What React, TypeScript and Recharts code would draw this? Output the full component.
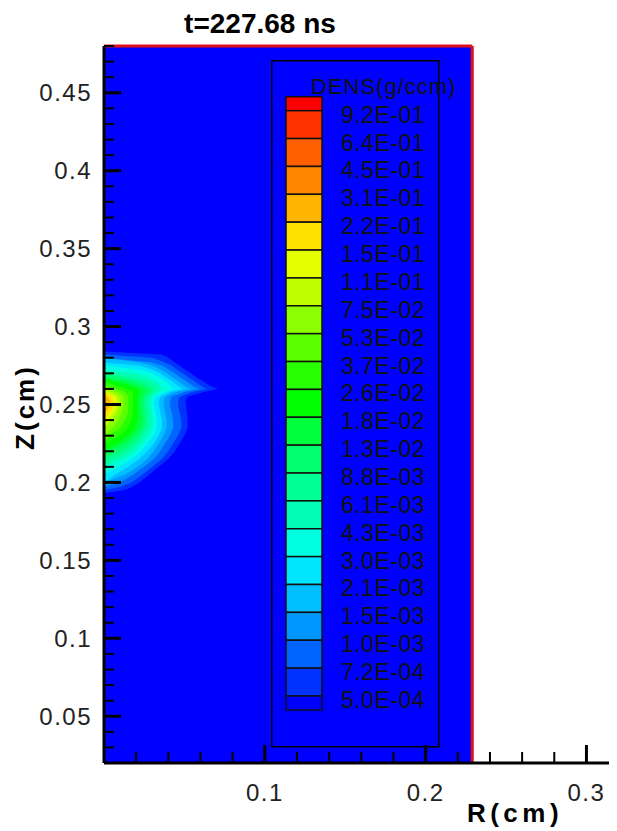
import React from 'react';
import { ComposedChart, Area, XAxis, YAxis, ReferenceLine, Legend } from 'recharts';

// Z (cm) rows of the contour table, top to bottom
const zRows = [0.284, 0.282, 0.28, 0.277, 0.275, 0.272, 0.27, 0.267, 0.265, 0.262, 0.26, 0.258, 0.255, 0.252, 0.25, 0.245, 0.24, 0.235, 0.23, 0.225, 0.22, 0.215, 0.21, 0.205, 0.2, 0.197, 0.195, 0.193];

// right edge R (cm) of each density contour at every row (region is R from 0 to value)
const r5_0e4 = [0, 0.036, 0.04, 0.044, 0.047, 0.051, 0.054, 0.058, 0.0615, 0.066, 0.0708, 0.062, 0.052, 0.0505, 0.051, 0.0515, 0.052, 0.052, 0.05, 0.047, 0.044, 0.04, 0.034, 0.028, 0.022, 0.0175, 0.012, 0];
const r7_2e4 = [0, 0, 0.03, 0.038, 0.042, 0.046, 0.049, 0.053, 0.056, 0.06, 0.064, 0.055, 0.047, 0.046, 0.046, 0.047, 0.048, 0.048, 0.046, 0.043, 0.04, 0.036, 0.03, 0.024, 0.017, 0.01, 0, 0];
const r1_0e3 = [0, 0, 0, 0.03, 0.036, 0.041, 0.044, 0.048, 0.051, 0.055, 0.059, 0.05, 0.042, 0.041, 0.041, 0.042, 0.043, 0.043, 0.041, 0.038, 0.035, 0.031, 0.025, 0.018, 0.01, 0, 0, 0];
const r1_5e3 = [0, 0, 0, 0.022, 0.03, 0.036, 0.039, 0.043, 0.046, 0.05, 0.054, 0.045, 0.038, 0.037, 0.037, 0.038, 0.039, 0.039, 0.037, 0.034, 0.031, 0.027, 0.021, 0.013, 0, 0, 0, 0];
const r2_1e3 = [0, 0, 0, 0, 0.022, 0.031, 0.035, 0.039, 0.042, 0.046, 0.049, 0.041, 0.035, 0.034, 0.034, 0.035, 0.036, 0.036, 0.034, 0.031, 0.027, 0.022, 0.015, 0.007, 0, 0, 0, 0];
const r3_0e3 = [0, 0, 0, 0, 0, 0.024, 0.03, 0.035, 0.038, 0.041, 0.043, 0.038, 0.032, 0.031, 0.031, 0.032, 0.033, 0.033, 0.031, 0.027, 0.023, 0.017, 0.009, 0, 0, 0, 0, 0];
const r4_3e3 = [0, 0, 0, 0, 0, 0, 0.02, 0.028, 0.032, 0.035, 0.037, 0.034, 0.03, 0.029, 0.029, 0.03, 0.03, 0.03, 0.027, 0.024, 0.019, 0.012, 0, 0, 0, 0, 0, 0];
const r6_1e3 = [0, 0, 0, 0, 0, 0, 0, 0.02, 0.027, 0.031, 0.033, 0.031, 0.028, 0.027, 0.027, 0.028, 0.028, 0.027, 0.024, 0.021, 0.015, 0.006, 0, 0, 0, 0, 0, 0];
const r8_8e3 = [0, 0, 0, 0, 0, 0, 0, 0.012, 0.021, 0.027, 0.03, 0.029, 0.026, 0.025, 0.025, 0.026, 0.026, 0.025, 0.022, 0.018, 0.011, 0, 0, 0, 0, 0, 0, 0];
const r1_3e2 = [0, 0, 0, 0, 0, 0, 0, 0, 0.013, 0.022, 0.026, 0.026, 0.024, 0.023, 0.023, 0.024, 0.024, 0.023, 0.019, 0.013, 0.004, 0, 0, 0, 0, 0, 0, 0];
const r1_8e2 = [0, 0, 0, 0, 0, 0, 0, 0, 0.006, 0.016, 0.021, 0.022, 0.021, 0.021, 0.021, 0.021, 0.021, 0.019, 0.015, 0.008, 0, 0, 0, 0, 0, 0, 0, 0];
const r2_6e2 = [0, 0, 0, 0, 0, 0, 0, 0, 0, 0.008, 0.014, 0.018, 0.018, 0.018, 0.018, 0.018, 0.017, 0.015, 0.01, 0, 0, 0, 0, 0, 0, 0, 0, 0];
const r3_7e2 = [0, 0, 0, 0, 0, 0, 0, 0, 0, 0, 0.008, 0.013, 0.015, 0.015, 0.015, 0.015, 0.013, 0.01, 0.003, 0, 0, 0, 0, 0, 0, 0, 0, 0];
const r5_3e2 = [0, 0, 0, 0, 0, 0, 0, 0, 0, 0, 0.002, 0.009, 0.012, 0.012, 0.012, 0.011, 0.009, 0.005, 0, 0, 0, 0, 0, 0, 0, 0, 0, 0];
const r7_5e2 = [0, 0, 0, 0, 0, 0, 0, 0, 0, 0, 0, 0.005, 0.009, 0.01, 0.01, 0.008, 0.005, 0, 0, 0, 0, 0, 0, 0, 0, 0, 0, 0];
const r1_1e1 = [0, 0, 0, 0, 0, 0, 0, 0, 0, 0, 0, 0.001, 0.007, 0.008, 0.008, 0.006, 0.002, 0, 0, 0, 0, 0, 0, 0, 0, 0, 0, 0];
const r1_5e1 = [0, 0, 0, 0, 0, 0, 0, 0, 0, 0, 0, 0, 0.005, 0.006, 0.006, 0.004, 0, 0, 0, 0, 0, 0, 0, 0, 0, 0, 0, 0];
const r2_2e1 = [0, 0, 0, 0, 0, 0, 0, 0, 0, 0, 0, 0, 0.002, 0.004, 0.004, 0.001, 0, 0, 0, 0, 0, 0, 0, 0, 0, 0, 0, 0];

// outer boundary of the computational domain (R, cm)
const boundaryR = 0.229;

const densLabels = ['9.2E-01', '6.4E-01', '4.5E-01', '3.1E-01', '2.2E-01', '1.5E-01', '1.1E-01', '7.5E-02', '5.3E-02', '3.7E-02', '2.6E-02', '1.8E-02', '1.3E-02', '8.8E-03', '6.1E-03', '4.3E-03', '3.0E-03', '2.1E-03', '1.5E-03', '1.0E-03', '7.2E-04', '5.0E-04'];
const bandColors = ['#FF0000', '#FF3200', '#FF5F00', '#FF8700', '#FFB400', '#FFE100', '#E6FF00', '#BEFF00', '#8CFF00', '#5AFF00', '#28FF00', '#00FF00', '#00FF3C', '#00FF6E', '#00FF96', '#00FFB4', '#00FFE1', '#00E6FF', '#00BEFF', '#0096FF', '#0064FF', '#0032FF', '#0000FF'];

const contours = [
  { key: 'c5_0e4', label: '5.0E-04', r: r5_0e4 },
  { key: 'c7_2e4', label: '7.2E-04', r: r7_2e4 },
  { key: 'c1_0e3', label: '1.0E-03', r: r1_0e3 },
  { key: 'c1_5e3', label: '1.5E-03', r: r1_5e3 },
  { key: 'c2_1e3', label: '2.1E-03', r: r2_1e3 },
  { key: 'c3_0e3', label: '3.0E-03', r: r3_0e3 },
  { key: 'c4_3e3', label: '4.3E-03', r: r4_3e3 },
  { key: 'c6_1e3', label: '6.1E-03', r: r6_1e3 },
  { key: 'c8_8e3', label: '8.8E-03', r: r8_8e3 },
  { key: 'c1_3e2', label: '1.3E-02', r: r1_3e2 },
  { key: 'c1_8e2', label: '1.8E-02', r: r1_8e2 },
  { key: 'c2_6e2', label: '2.6E-02', r: r2_6e2 },
  { key: 'c3_7e2', label: '3.7E-02', r: r3_7e2 },
  { key: 'c5_3e2', label: '5.3E-02', r: r5_3e2 },
  { key: 'c7_5e2', label: '7.5E-02', r: r7_5e2 },
  { key: 'c1_1e1', label: '1.1E-01', r: r1_1e1 },
  { key: 'c1_5e1', label: '1.5E-01', r: r1_5e1 },
  { key: 'c2_2e1', label: '2.2E-01', r: r2_2e1 },
];

const xTicks = [0.02, 0.04, 0.06, 0.08, 0.1, 0.12, 0.14, 0.16, 0.18, 0.2, 0.22, 0.24, 0.26, 0.28, 0.3];
const xMajorTicks = [0.1, 0.2, 0.3];
const yTicks = [0.02, 0.03, 0.04, 0.05, 0.06, 0.07, 0.08, 0.09, 0.1, 0.11, 0.12, 0.13, 0.14, 0.15, 0.16, 0.17, 0.18, 0.19, 0.2, 0.21, 0.22, 0.23, 0.24, 0.25, 0.26, 0.27, 0.28, 0.29, 0.3, 0.31, 0.32, 0.33, 0.34, 0.35, 0.36, 0.37, 0.38, 0.39, 0.4, 0.41, 0.42, 0.43, 0.44, 0.45, 0.46, 0.47, 0.48];
const yMajorTicks = [0.05, 0.1, 0.15, 0.2, 0.25, 0.3, 0.35, 0.4, 0.45];

const font = '"Liberation Sans", Arial, sans-serif';

// add the domain top/bottom rows so the background fills the full height
const tableRows = [0.48, ...zRows, 0.02].map((z, i) => {
  const row: Record<string, number> = { z, bg: boundaryR };
  contours.forEach((c) => {
    row[c.key] = i === 0 || i > zRows.length ? 0 : c.r[i - 1];
  });
  return row;
});

const XTick = (props: any) => {
  const { x, y, payload } = props;
  const major = xMajorTicks.includes(payload.value);
  return (
    <g>
      <line x1={x} x2={x} y1={y} y2={y - (major ? 18 : 11)} stroke="#000" strokeWidth={major ? 3 : 2} />
      {major && (
        <text x={x} y={y + 29} textAnchor="middle" dominantBaseline="central" fontFamily={font} fontSize={24} letterSpacing={1.5} fill="#222">
          {payload.value}
        </text>
      )}
    </g>
  );
};

const YTick = (props: any) => {
  const { x, y, payload } = props;
  const major = yMajorTicks.includes(payload.value);
  return (
    <g>
      <line x1={x} x2={x + (major ? 17 : 10)} y1={y} y2={y} stroke="#000" strokeWidth={major ? 3 : 2} />
      {major && (
        <text x={x - 12} y={y} textAnchor="end" dominantBaseline="central" fontFamily={font} fontSize={24} letterSpacing={1.5} fill="#222">
          {payload.value}
        </text>
      )}
    </g>
  );
};

const bandTop = 50.7;
const bandStep = 27.87;

const DensLegend = () => (
  <svg width={172} height={690} style={{ display: 'block', overflow: 'visible' }}>
    <rect x={0.75} y={0.75} width={167} height={686} fill="none" stroke="#000" strokeWidth={1.5} />
    <text x={40} y={34} fontFamily={font} fontSize={22} letterSpacing={1} fill="#111">DENS(g/ccm)</text>
    {bandColors.map((c, i) => {
      const top = i === 0 ? bandTop - 14 : bandTop + (i - 1) * bandStep;
      const bottom = i === 0 ? bandTop : i === bandColors.length - 1 ? top + 14 : bandTop + i * bandStep;
      return <rect key={i} x={15} y={top} width={36} height={bottom - top} fill={c} stroke="#111" strokeWidth={1.5} />;
    })}
    {densLabels.map((l, i) => (
      <text key={l} x={154} y={bandTop + i * bandStep + 4} textAnchor="end" dominantBaseline="central" fontFamily={font} fontSize={23} letterSpacing={0.5} fill="#111">
        {l}
      </text>
    ))}
  </svg>
);

export default function App() {
  return (
    <div style={{ position: 'relative', width: 609, height: 823 }}>
      <ComposedChart layout="vertical" width={609} height={823} data={tableRows} margin={{ top: 38, right: 0, bottom: 0, left: 0 }}>
        <XAxis
          type="number"
          domain={[0, 0.319]}
          allowDataOverflow
          ticks={xTicks}
          interval={0}
          tick={<XTick />}
          tickLine={false}
          tickSize={0}
          tickMargin={0}
          height={68}
          axisLine={{ stroke: '#000', strokeWidth: 3 }}
        />
        <YAxis
          type="number"
          dataKey="z"
          domain={[0.02, 0.48]}
          allowDataOverflow
          reversed
          ticks={yTicks}
          interval={0}
          tick={<YTick />}
          tickLine={false}
          tickSize={0}
          tickMargin={0}
          width={96}
          axisLine={{ stroke: '#000', strokeWidth: 3 }}
        />
        <Area dataKey="bg" type="linear" fill="#0000FF" fillOpacity={1} stroke="none" dot={false} activeDot={false} isAnimationActive={false} />
        {contours.map((c) => (
          <Area
            key={c.key}
            dataKey={c.key}
            type="linear"
            fill={bandColors[densLabels.indexOf(c.label)]}
            fillOpacity={1}
            stroke="none"
            dot={false}
            activeDot={false}
            isAnimationActive={false}
          />
        ))}
        <ReferenceLine segment={[{ x: 0, y: 0.48 }, { x: boundaryR, y: 0.48 }]} stroke="#E0101A" strokeWidth={3} ifOverflow="visible" />
        <ReferenceLine segment={[{ x: boundaryR, y: 0.48 }, { x: boundaryR, y: 0.02 }]} stroke="#E0101A" strokeWidth={3} ifOverflow="visible" />
        <Legend
          layout="vertical"
          align="center"
          verticalAlign="middle"
          content={() => <DensLegend />}
          wrapperStyle={{ left: 263, top: 52, width: 172, height: 690 }}
        />
      </ComposedChart>
      <div style={{ position: 'absolute', left: 252, top: 16, transform: 'translate(-50%, -50%)', fontFamily: font, fontWeight: 'bold', fontSize: 28, whiteSpace: 'nowrap' }}>
        t=227.68 ns
      </div>
      <div style={{ position: 'absolute', left: 17, top: 399, transform: 'translate(-50%, -50%) rotate(-90deg)', fontFamily: font, fontWeight: 'bold', fontSize: 26, letterSpacing: 3, whiteSpace: 'nowrap' }}>
        Z(cm)
      </div>
      <div style={{ position: 'absolute', left: 507, top: 805, transform: 'translate(-50%, -50%)', fontFamily: font, fontWeight: 'bold', fontSize: 26, letterSpacing: 4.5, whiteSpace: 'nowrap' }}>
        R(cm)
      </div>
    </div>
  );
}
